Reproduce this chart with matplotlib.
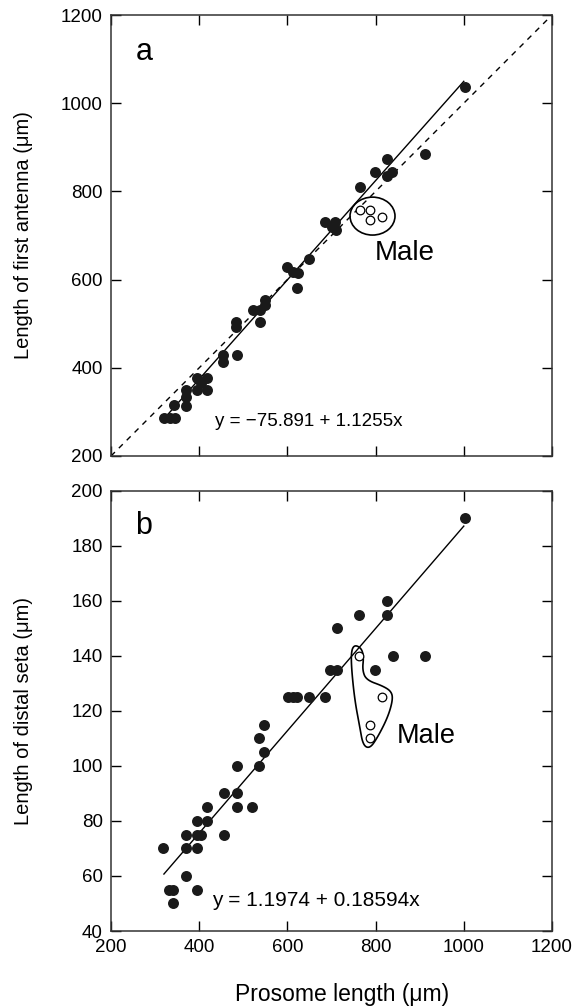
import numpy as np
import matplotlib
matplotlib.use("Agg")
import matplotlib.pyplot as plt
from matplotlib.patches import Ellipse, Polygon

plt.rcParams['font.family'] = ['Liberation Sans', 'DejaVu Sans']

# panel a: prosome length vs first antenna length (females, filled)
a_x = [320, 333, 345, 343, 371, 371, 371, 394, 417, 405, 394, 417,
       454, 454, 485, 483, 483, 522, 537, 537, 549, 549,
       598, 613, 624, 621, 650,
       685, 707, 700, 711,
       764, 798, 826, 826, 838, 913, 1003]
a_y = [287, 287, 287, 316, 314, 334, 350, 376, 376, 365, 350, 350,
       429, 414, 429, 504, 493, 531, 531, 504, 554, 542,
       629, 618, 614, 580, 646,
       731, 731, 720, 713,
       811, 845, 873, 835, 845, 885, 1037]
# males (open)
a_mx = [764, 787, 787, 815]
a_my = [758, 758, 735, 743]

# panel b: prosome length vs distal seta length
b_x = [318, 332, 341, 341, 395, 371, 371, 394, 371, 394, 405, 394, 417,
       417, 457, 457, 485, 485, 519, 485, 535, 547, 535, 547,
       602, 613, 621, 649, 685, 696, 713, 713, 762, 825, 825, 798,
       840, 911, 1002]
b_y = [70, 55, 55, 50, 55, 60, 70, 70, 75, 75, 75, 80, 80,
       85, 75, 90, 90, 85, 85, 100, 100, 105, 110, 115,
       125, 125, 125, 125, 125, 135, 135, 150, 155, 155, 160, 135,
       140, 140, 190]
b_mx = [762, 815, 787, 787]
b_my = [140, 125, 115, 110]

# regression fits
a_int, a_slope = -75.891, 1.1255
b_int, b_slope = 1.1974, 0.18594
fit_range = [320, 1000]

# outline drawn round the males in panel b
male_b_outline = [(753, 144), (768, 142.7), (773, 139.6), (770, 134.8), (779, 131.2),
                  (817, 129), (836, 127), (839, 124), (828, 117.8), (805, 110.5),
                  (787, 106.3), (771.5, 107.5), (764, 114.2), (752.6, 124),
                  (745, 136), (745, 142)]


def chaikin(pts, n=4):
    p = np.array(pts, dtype=float)
    for _ in range(n):
        q = np.roll(p, -1, axis=0)
        p = np.column_stack([0.75 * p + 0.25 * q, 0.25 * p + 0.75 * q]).reshape(-1, 2)
    return p


fig = plt.figure(figsize=(5.76, 10.07), dpi=100)
ax1 = fig.add_axes([111 / 576, 1 - 456 / 1007, 441 / 576, 441 / 1007])
ax2 = fig.add_axes([111 / 576, 1 - 931 / 1007, 441 / 576, 440.3 / 1007])

for ax in (ax1, ax2):
    ax.tick_params(direction='in', length=7, width=1, top=True, right=True,
                   labelsize=13.5, pad=6)
    for s in ax.spines.values():
        s.set_linewidth(1.1)
        s.set_color('#333333')
    ax.set_xlim(200, 1200)
    ax.set_xticks(range(200, 1201, 200))

# ---- panel a
fx = np.array(fit_range)
ax1.plot([200, 1200], [200, 1200], color='black', lw=1, ls=(0, (4, 4)))
ax1.plot(fx, a_int + a_slope * fx, color='black', lw=1)
ax1.plot(a_x, a_y, 'o', color='#1a1a1a', ms=7.9, mec='none')
ax1.plot(a_mx, a_my, 'o', mfc='white', mec='black', ms=6.2, mew=0.9)
ax1.add_patch(Ellipse((793, 744), 102, 86, fill=False, lw=1.2, color='black'))
ax1.text(798, 660, 'Male', fontsize=20, va='center', ha='left')
ax1.text(257, 1116, 'a', fontsize=22, va='center', ha='left')
ax1.text(435, 279, 'y = \u221275.891 + 1.1255x', fontsize=13.5, va='center', ha='left')
ax1.set_ylim(200, 1200)
ax1.set_yticks(range(200, 1201, 200))
ax1.tick_params(labelbottom=False)
ax1.set_ylabel('Length of first antenna (\u03bcm)', fontsize=14.5)
ax1.yaxis.set_label_coords(-0.178, 0.5)

# ---- panel b
ax2.plot(fx, b_int + b_slope * fx, color='black', lw=1)
ax2.plot(b_x, b_y, 'o', color='#1a1a1a', ms=7.9, mec='none')
ax2.plot(b_mx, b_my, 'o', mfc='white', mec='black', ms=6.2, mew=0.9)
ax2.add_patch(Polygon(chaikin(male_b_outline), closed=True, fill=False, lw=1.2, color='black'))
ax2.text(847, 111, 'Male', fontsize=19.5, va='center', ha='left')
ax2.text(255, 187, 'b', fontsize=22, va='center', ha='left')
ax2.text(430, 51.2, 'y = 1.1974 + 0.18594x', fontsize=15, va='center', ha='left')
ax2.set_ylim(40, 200)
ax2.set_yticks(range(40, 201, 20))
ax2.set_xlabel('Prosome length (\u03bcm)', fontsize=16.5)
ax2.xaxis.set_label_coords(0.523, -0.118)
ax2.set_ylabel('Length of distal seta (\u03bcm)', fontsize=14.5)
ax2.yaxis.set_label_coords(-0.178, 0.5)

fig.savefig('out.png', dpi=100)
